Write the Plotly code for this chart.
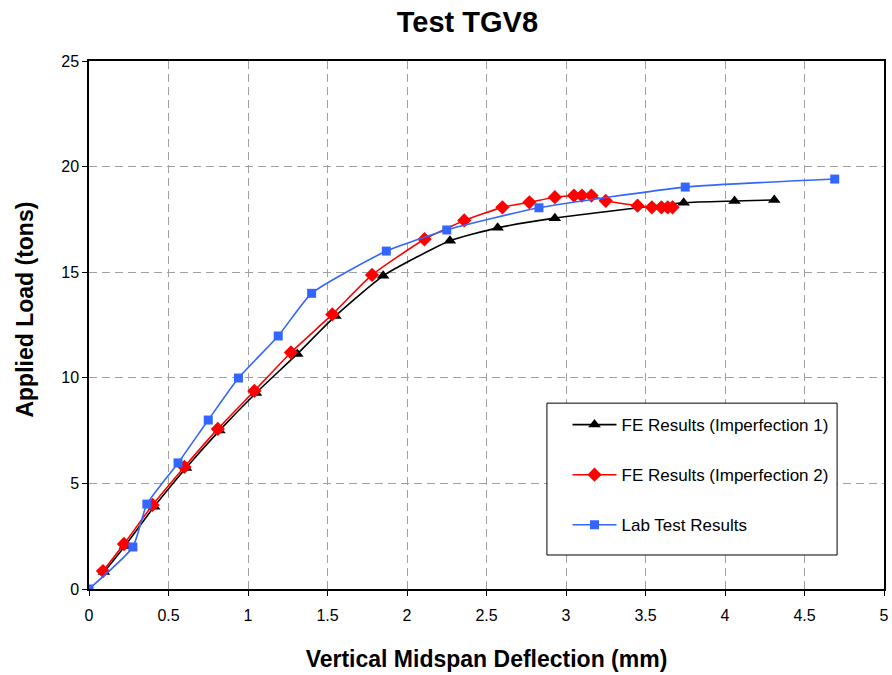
import plotly.graph_objects as go

# FE Results (Imperfection 1)
fe1_x = [0.094, 0.226, 0.41, 0.61, 0.82, 1.05, 1.31, 1.55, 1.85, 2.27, 2.57, 2.93, 3.74, 4.06, 4.31]
fe1_y = [0.80, 2.04, 3.90, 5.73, 7.50, 9.28, 11.13, 12.93, 14.83, 16.49, 17.10, 17.56, 18.29, 18.37, 18.42]

# FE Results (Imperfection 2)
fe2_x = [0.088, 0.22, 0.40, 0.60, 0.81, 1.04, 1.27, 1.53, 1.78, 2.11, 2.36, 2.60, 2.77, 2.93,
         3.05, 3.10, 3.16, 3.25, 3.45, 3.54, 3.60, 3.64, 3.67]
fe2_y = [0.85, 2.13, 3.98, 5.78, 7.58, 9.38, 11.20, 13.00, 14.87, 16.56, 17.45, 18.07, 18.31, 18.55,
         18.63, 18.63, 18.63, 18.38, 18.15, 18.07, 18.07, 18.07, 18.07]

# Lab Test Results
lab_x = [0.0, 0.276, 0.364, 0.56, 0.75, 0.94, 1.19, 1.40, 1.87, 2.25, 2.83, 3.75, 4.69]
lab_y = [0.0, 1.99, 4.02, 5.97, 8.00, 9.99, 11.98, 14.00, 16.00, 17.00, 18.05, 19.03, 19.41]

FONT = "Liberation Sans, Arial, sans-serif"

fig = go.Figure()
fig.add_trace(go.Scatter(
    x=fe1_x, y=fe1_y, name="FE Results (Imperfection 1)", mode="lines+markers",
    line=dict(color="black", width=1.6, shape="spline", smoothing=0.5),
    marker=dict(symbol="triangle-up", size=11, color="black"),
    legendgroup="a"))
fig.add_trace(go.Scatter(
    x=fe2_x, y=fe2_y, name="FE Results (Imperfection 2)", mode="lines+markers",
    line=dict(color="#ff0000", width=1.6, shape="spline", smoothing=0.5),
    marker=dict(symbol="diamond", size=11, color="#ff0000"),
    legendgroup="b"))
fig.add_trace(go.Scatter(
    x=lab_x, y=lab_y, name="Lab Test Results", mode="lines+markers",
    line=dict(color="#3366ff", width=1.6, shape="spline", smoothing=0.5),
    marker=dict(symbol="square", size=9, color="#3366ff"),
    legendgroup="c"))

fig.update_layout(
    width=892, height=675,
    margin=dict(l=89, r=3, t=61, b=86),
    paper_bgcolor="white", plot_bgcolor="white",
    font=dict(family=FONT, size=16, color="black"),
    title=dict(text="<b>Test TGV8</b>", x=0.524, xanchor="center", y=0.967, yanchor="middle",
               font=dict(family=FONT, size=29, color="black")),
    showlegend=True,
    legend=dict(x=0.578, xanchor="left", y=0.352, yanchor="top",
                bgcolor="rgba(0,0,0,0)", borderwidth=0,
                font=dict(family=FONT, size=17, color="black"),
                tracegroupgap=25, itemwidth=44, indentation=19,
                traceorder="grouped",
                title=dict(text=" ", font=dict(size=3))),
    shapes=[dict(type="rect", xref="paper", yref="paper",
                 x0=0.576, x1=0.941, y0=0.0644, y1=0.352,
                 line=dict(color="black", width=1), fillcolor="white", layer="above")],
    annotations=[dict(text="<b>Applied Load (tons)</b>", textangle=-90,
                      xref="paper", yref="paper", x=-0.080, y=0.530,
                      xanchor="center", yanchor="middle", showarrow=False,
                      font=dict(family=FONT, size=23, color="black"))],
)
fig.update_xaxes(
    range=[0, 5], dtick=0.5, tick0=0, showline=True, linecolor="black", linewidth=1.5,
    mirror=True, ticks="outside", ticklen=5, tickcolor="black",
    showgrid=True, gridcolor="#a0a0a0", griddash="8px,5px", gridwidth=1, zeroline=False,
    tickfont=dict(family=FONT, size=16), ticklabelstandoff=6,
    title=dict(text="<b>Vertical Midspan Deflection (mm)</b>", standoff=28,
               font=dict(family=FONT, size=23)))
fig.update_yaxes(
    range=[0, 25], dtick=5, tick0=0, showline=True, linecolor="black", linewidth=1.5,
    mirror=True, ticks="outside", ticklen=5, tickcolor="black",
    showgrid=True, gridcolor="#a0a0a0", griddash="8px,5px", gridwidth=1, zeroline=False,
    tickfont=dict(family=FONT, size=16))

fig.write_html("out.html")
